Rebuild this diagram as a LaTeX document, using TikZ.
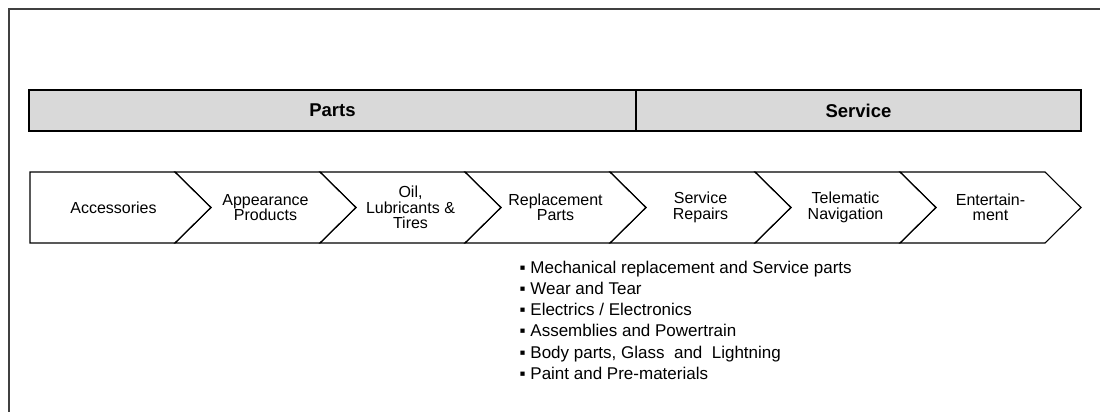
\documentclass[tikz,border=0pt]{standalone}
\usepackage{fontspec}
\setmainfont{Liberation Sans}
\usetikzlibrary{positioning}

\definecolor{bandgray}{RGB}{217,217,217}
\definecolor{framegray}{RGB}{64,64,64}

\begin{document}
\begin{tikzpicture}[x=1pt,y=-1pt]
	\useasboundingbox (0,0) rectangle (1100,412);
	\tikzset{band/.style={draw,fill=bandgray,line width=1.3pt,inner sep=0pt,outer sep=0pt,minimum height=41pt,font=\fontsize{18.5}{20}\selectfont\bfseries}}
	\tikzstyle{stepline}=[draw,line width=1.1pt,line join=miter]
	\tikzstyle{steplabel}=[align=center,inner sep=0pt,font=\fontsize{16}{15.5}\selectfont]
	\tikzstyle{listtext}=[align=left,inner sep=0pt,font=\fontsize{17}{21.3}\selectfont]

	%% Outer frame
	\draw[framegray,line width=2pt] (9,412) -- (9,9) -- (1100,9);

	%% Parts / Service bands
	\node[band,minimum width=607pt,anchor=north west] (parts) at (29,90) {Parts};
	\node[band,minimum width=445pt,right=0pt of parts] (service) {Service};

	%% Chevrons
	\foreach \k in {0,...,6}{
	    \pgfmathsetmacro\tip{211+145*\k}
	    \pgfmathsetmacro\back{\tip-145}
	    \ifnum\k=0
	        \draw[stepline] (30,172) -- (\tip-36,172) -- (\tip,207.5) -- (\tip-36,243) -- (30,243) -- cycle;
	    \else
	        \draw[stepline] (\back-36,172) -- (\tip-36,172) -- (\tip,207.5) -- (\tip-36,243) -- (\back-36,243) -- (\back,207.5) -- cycle;
	    \fi
	}
	\node[steplabel] (acc) at (113.5,207.5) {Accessories};
	\foreach \k/\nm/\txt in {1/app/{Appearance\\Products},
	                         2/oil/{Oil,\\Lubricants \&\\Tires},
	                         3/rep/{Replacement\\Parts},
	                         4/srv/{Service\\Repairs},
	                         5/tel/{Telematic\\Navigation},
	                         6/ent/{Entertain-\\ment}}
	    \node[steplabel] (\nm) at ({211+145*\k-90.5},207.5) {\txt};

	%% Replacement parts list
	\node[listtext,anchor=north west] (partlist) at (519.5,260.5)
	    {▪ Mechanical replacement and Service parts\\
	     ▪ Wear and Tear\\
	     ▪ Electrics / Electronics\\
	     ▪ Assemblies and Powertrain\\
	     ▪ Body parts, Glass~ and~ Lightning\\
	     ▪ Paint and Pre-materials};
\end{tikzpicture}
\end{document}
